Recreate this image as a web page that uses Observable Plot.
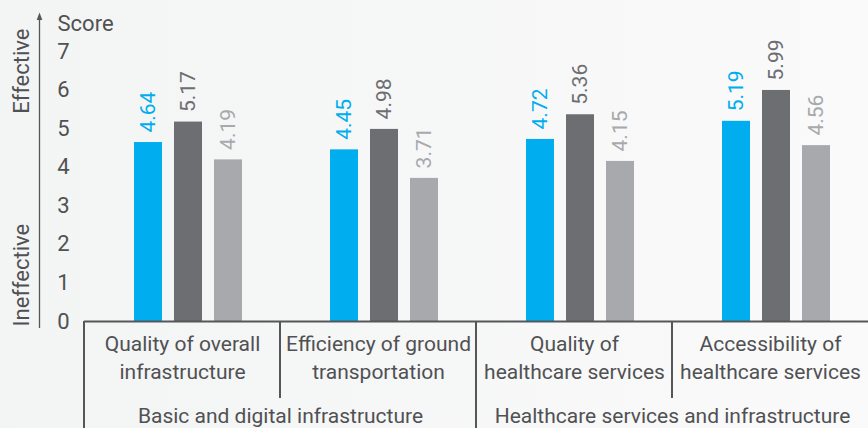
<!DOCTYPE html>
<html>
<head>
<meta charset="utf-8">
<script src="https://cdn.jsdelivr.net/npm/d3@7"></script>
<script src="https://cdn.jsdelivr.net/npm/@observablehq/plot@0.6"></script>
<style>
  html, body { margin: 0; padding: 0; }
  body { width: 868px; height: 428px; overflow: hidden;
         background: linear-gradient(to right, #f3f4f4, #fafafa); }
  #chart svg { display: block; }
</style>
</head>
<body>
<div id="chart"></div>
<script>
// ---- data ----
const categories = [
  "Quality of overall infrastructure",
  "Efficiency of ground transportation",
  "Quality of healthcare services",
  "Accessibility of healthcare services"
];
const categoryLines = [
  "Quality of overall\ninfrastructure",
  "Efficiency of ground\ntransportation",
  "Quality of\nhealthcare services",
  "Accessibility of\nhealthcare services"
];
const groups = ["Basic and digital infrastructure", "Healthcare services and infrastructure"];
const groupFirstCategory = [categories[0], categories[2]];
const series = ["Series 1", "Series 2", "Series 3"];
const series1 = [4.64, 4.45, 4.72, 5.19];
const series2 = [5.17, 4.98, 5.36, 5.99];
const series3 = [4.19, 3.71, 4.15, 4.56];
const yTicks = [0, 1, 2, 3, 4, 5, 6, 7];
const colors = ["#00aeef", "#6d6e71", "#a7a9ac"];
const textColor = "#505153";

const seriesValues = [series1, series2, series3];
const data = categories.flatMap((c, i) =>
  series.map((s, j) => ({category: c, series: s, value: seriesValues[j][i]}))
);
const catData = categories.map((c, i) => ({category: c, label: categoryLines[i]}));
const groupData = groups.map((g, i) => ({category: groupFirstCategory[i], label: g}));
const first = [{category: categories[0]}];

const chart = Plot.plot({
  width: 868,
  height: 428,
  marginLeft: 83,
  marginRight: 0,
  marginTop: 51,
  marginBottom: 107,
  style: {background: "transparent", fontFamily: "Roboto, sans-serif", color: textColor},
  fx: {domain: categories, padding: 0, axis: null},
  x: {domain: series, paddingInner: 0.31, paddingOuter: 1.08, align: 0.56, axis: null},
  y: {domain: [0, 7], axis: null},
  color: {domain: series, range: colors},
  marks: [
    Plot.axisY({ticks: yTicks, tickFormat: d3.format("d"), tickSize: 0, tickPadding: 15,
      fontSize: 22, label: null, fill: textColor}),
    Plot.barY(data, {fx: "category", x: "series", y: "value", fill: "series"}),
    Plot.text(data, {
      fx: "category", x: "series", y: "value",
      text: d => d.value.toFixed(2),
      fill: "series", rotate: -90, textAnchor: "start", lineAnchor: "middle",
      dy: -10, fontSize: 21
    }),
    Plot.ruleY([0], {stroke: "#555658", strokeWidth: 2}),
    // sub-category labels
    Plot.text(catData, {
      fx: "category", text: "label", frameAnchor: "bottom",
      lineAnchor: "bottom", lineHeight: 1.3, dy: 57, fontSize: 21, fill: textColor
    }),
    // group labels
    Plot.text(groupData, {
      fx: "category", text: "label", frameAnchor: "bottom-right",
      textAnchor: "middle", lineAnchor: "bottom", dy: 101, fontSize: 21, fill: textColor
    }),
    // axis title and scale annotations
    Plot.text(first, {fx: "category", text: () => "Score", frameAnchor: "top-left",
      textAnchor: "start", lineAnchor: "bottom", dx: -27, dy: -21, fontSize: 22, fill: textColor}),
    Plot.text(first, {fx: "category", text: () => "Effective", frameAnchor: "top-left",
      rotate: -90, textAnchor: "end", lineAnchor: "middle", dx: -63, dy: -23, fontSize: 22, fill: textColor}),
    Plot.text(first, {fx: "category", text: () => "Ineffective", frameAnchor: "bottom-left",
      rotate: -90, textAnchor: "start", lineAnchor: "middle", dx: -63, dy: 5, fontSize: 22, fill: textColor})
  ]
});

document.getElementById("chart").appendChild(chart);

// table dividers and the scale arrow, positioned from the fx and y scales
const fx = chart.scale("fx");
const yS = chart.scale("y");
const svg = d3.select(chart);
const g = svg.append("g").attr("stroke", "#555658").attr("stroke-width", 2).attr("fill", "none");
const base = yS.apply(0);
categories.forEach((c) => {
  const x = fx.apply(c);
  const isGroupStart = groupFirstCategory.includes(c);
  g.append("line")
    .attr("x1", x).attr("x2", x)
    .attr("y1", base).attr("y2", isGroupStart ? 428 : 398);
});
// arrow along the left side
const ax = 39.5;
svg.append("line").attr("x1", ax).attr("x2", ax).attr("y1", base + 7).attr("y2", 17)
  .attr("stroke", "#555658").attr("stroke-width", 1.3);
svg.append("path").attr("d", `M${ax - 2.8},20 L${ax},12.5 L${ax + 2.8},20 Z`)
  .attr("fill", "#555658");
</script>
</body>
</html>
